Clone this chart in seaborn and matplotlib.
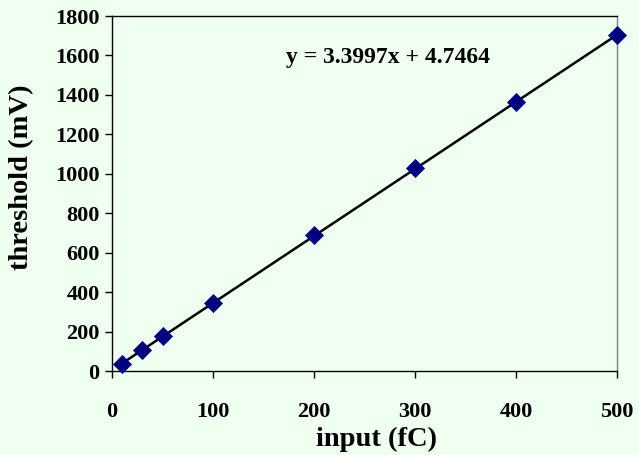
import numpy as np
import pandas as pd
import matplotlib
matplotlib.use("Agg")
import matplotlib.pyplot as plt
import seaborn as sns

# data
entrada_fc = [10, 30, 50, 100, 200, 300, 400, 500]
umbral_mv = [38, 106, 175, 345, 692, 1030, 1365, 1704]
pendiente = 3.3997
ordenada = 4.7464
ecuacion = "y = 3.3997x + 4.7464"
ticks_x = [0, 100, 200, 300, 400, 500]
ticks_y = [0, 200, 400, 600, 800, 1000, 1200, 1400, 1600, 1800]

fondo = "#effff0"

sns.set_style("ticks")
plt.rcParams["font.family"] = ["Liberation Serif", "DejaVu Serif"]
plt.rcParams["font.weight"] = "bold"
plt.rcParams["text.color"] = "black"
plt.rcParams["axes.labelcolor"] = "black"
plt.rcParams["xtick.color"] = "black"
plt.rcParams["ytick.color"] = "black"

df = pd.DataFrame({"input": entrada_fc, "threshold": umbral_mv})
df["ajuste"] = pendiente * df["input"] + ordenada

fig, ax = plt.subplots(figsize=(6.39, 4.55), dpi=100)
fig.patch.set_facecolor(fondo)
ax.set_facecolor(fondo)
fig.subplots_adjust(left=0.1753, right=0.9656, top=0.9648, bottom=0.1846)

sns.lineplot(data=df, x="input", y="ajuste", color="black", lw=1.8, ax=ax, zorder=2)
sns.scatterplot(data=df, x="input", y="threshold", marker="D", s=85, color="#000080",
                edgecolor="#000080", linewidth=0.5, ax=ax, zorder=3, clip_on=False)

ax.set_xlim(0, 500)
ax.set_ylim(0, 1800)
ax.set_xticks(ticks_x)
ax.set_yticks(ticks_y)
ax.tick_params(direction="out", length=5, width=1, labelsize=16, pad=4,
               colors="black", labelcolor="black")
ax.tick_params(axis="x", pad=17)
for lab in ax.get_xticklabels() + ax.get_yticklabels():
	lab.set_fontweight("bold")

for lado in ["left", "bottom", "top"]:
	ax.spines[lado].set_visible(True)
	ax.spines[lado].set_color("black")
	ax.spines[lado].set_linewidth(1)
ax.spines["right"].set_visible(True)
ax.spines["right"].set_color("#808080")
ax.spines["right"].set_linewidth(1)

ax.set_xlabel("input (fC)", fontsize=20.5, fontweight="bold", color="black")
ax.set_ylabel("threshold (mV)", fontsize=20.5, fontweight="bold", color="black")
ax.xaxis.set_label_coords(0.523, -0.158)
ax.yaxis.set_label_coords(-0.154, 0.546)

ax.text(273, 1590, ecuacion, ha="center", va="center", fontsize=17, fontweight="bold",
        color="black")

plt.savefig("out.png", dpi=100, facecolor=fondo)
